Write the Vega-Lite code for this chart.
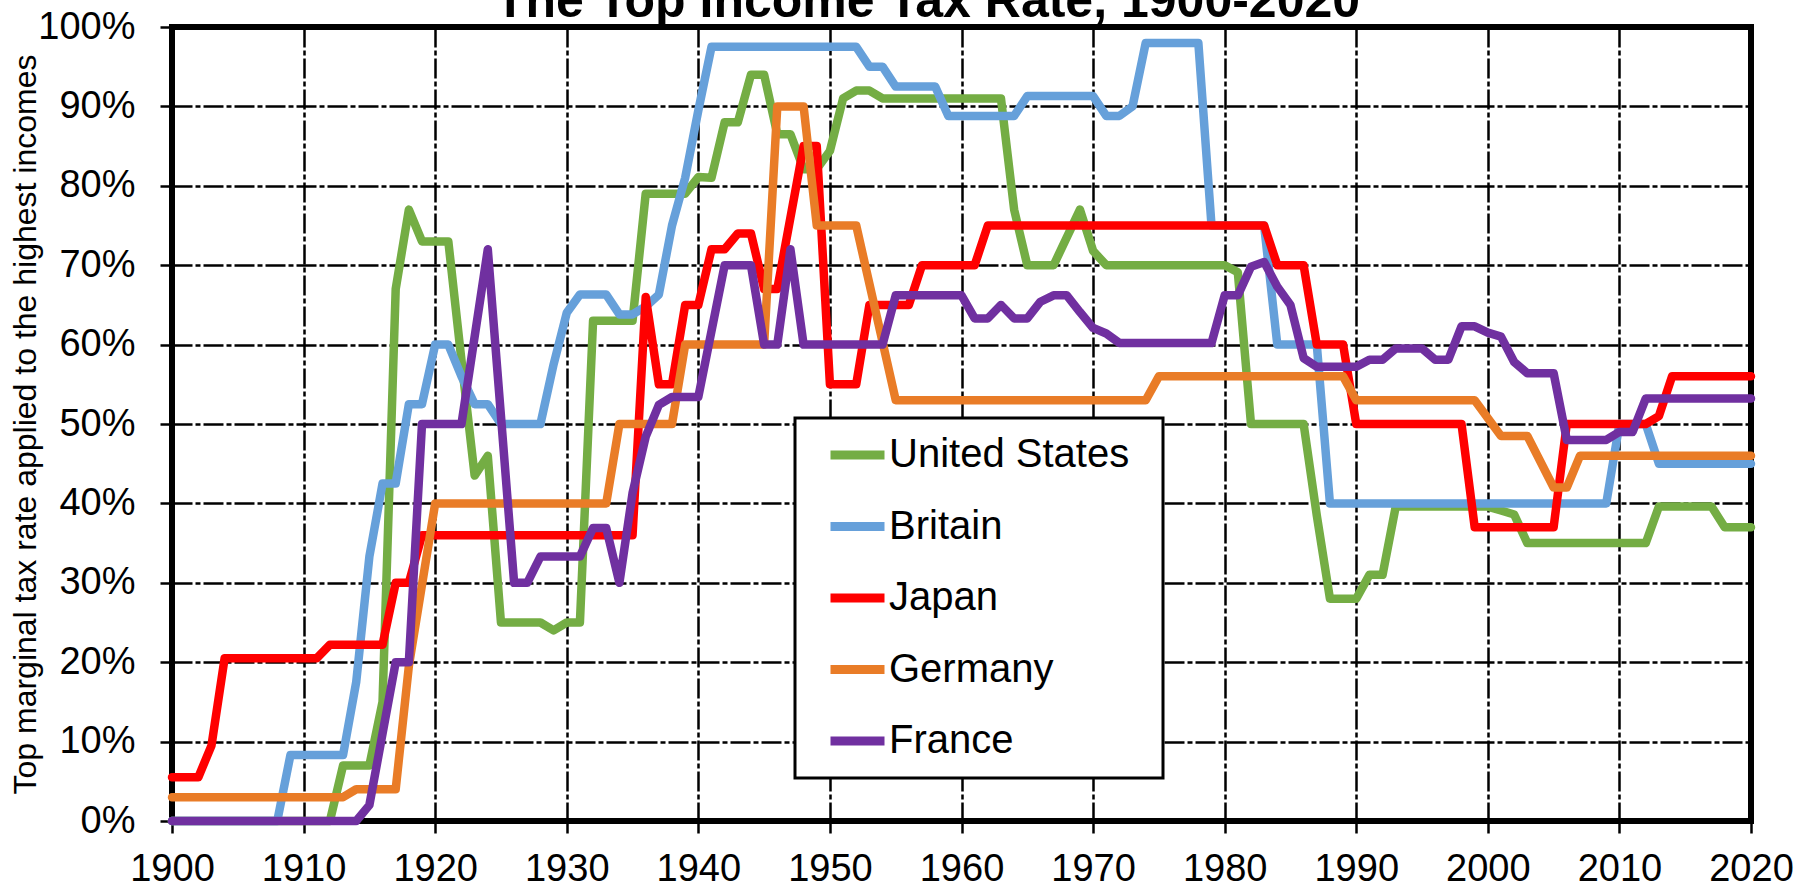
{
  "$schema": "https://vega.github.io/schema/vega-lite/v6.json",
  "width": 1579,
  "height": 794,
  "autosize": {"type": "none"},
  "padding": {"left": 172, "top": 27, "right": 60, "bottom": 66},
  "background": "white",
  "title": {"text": "The Top Income Tax Rate, 1900-2020", "font": "Liberation Sans", "fontSize": 50, "fontWeight": "bold", "color": "black", "anchor": "middle", "dx": -34, "offset": -19},
  "config": {
    "view": {"stroke": "black", "strokeWidth": 6},
    "axis": {"labelFont": "Liberation Sans", "labelFontSize": 38, "labelColor": "black", "tickColor": "black", "tickWidth": 2.5, "tickSize": 12, "domain": false, "grid": true, "gridColor": "black", "gridWidth": 2.5, "gridDash": [20, 3, 5, 3], "gridOpacity": 1},
    "legend": {"strokeWidth": 3, "strokeColor": "black", "fillColor": "white"}
  },
  "datasets": {
    "rates": [
      {"country": "United States", "year": 1900, "rate": 0},
      {"country": "United States", "year": 1912, "rate": 0},
      {"country": "United States", "year": 1913, "rate": 7},
      {"country": "United States", "year": 1915, "rate": 7},
      {"country": "United States", "year": 1916, "rate": 15},
      {"country": "United States", "year": 1917, "rate": 67},
      {"country": "United States", "year": 1918, "rate": 77},
      {"country": "United States", "year": 1919, "rate": 73},
      {"country": "United States", "year": 1921, "rate": 73},
      {"country": "United States", "year": 1922, "rate": 58},
      {"country": "United States", "year": 1923, "rate": 43.5},
      {"country": "United States", "year": 1924, "rate": 46},
      {"country": "United States", "year": 1925, "rate": 25},
      {"country": "United States", "year": 1928, "rate": 25},
      {"country": "United States", "year": 1929, "rate": 24},
      {"country": "United States", "year": 1930, "rate": 25},
      {"country": "United States", "year": 1931, "rate": 25},
      {"country": "United States", "year": 1932, "rate": 63},
      {"country": "United States", "year": 1935, "rate": 63},
      {"country": "United States", "year": 1936, "rate": 79},
      {"country": "United States", "year": 1939, "rate": 79},
      {"country": "United States", "year": 1940, "rate": 81.1},
      {"country": "United States", "year": 1941, "rate": 81},
      {"country": "United States", "year": 1942, "rate": 88},
      {"country": "United States", "year": 1943, "rate": 88},
      {"country": "United States", "year": 1944, "rate": 94},
      {"country": "United States", "year": 1945, "rate": 94},
      {"country": "United States", "year": 1946, "rate": 86.5},
      {"country": "United States", "year": 1947, "rate": 86.5},
      {"country": "United States", "year": 1948, "rate": 82.1},
      {"country": "United States", "year": 1949, "rate": 82.1},
      {"country": "United States", "year": 1950, "rate": 84.4},
      {"country": "United States", "year": 1951, "rate": 91},
      {"country": "United States", "year": 1952, "rate": 92},
      {"country": "United States", "year": 1953, "rate": 92},
      {"country": "United States", "year": 1954, "rate": 91},
      {"country": "United States", "year": 1963, "rate": 91},
      {"country": "United States", "year": 1964, "rate": 77},
      {"country": "United States", "year": 1965, "rate": 70},
      {"country": "United States", "year": 1967, "rate": 70},
      {"country": "United States", "year": 1969, "rate": 77},
      {"country": "United States", "year": 1970, "rate": 71.8},
      {"country": "United States", "year": 1971, "rate": 70},
      {"country": "United States", "year": 1980, "rate": 70},
      {"country": "United States", "year": 1981, "rate": 69.1},
      {"country": "United States", "year": 1982, "rate": 50},
      {"country": "United States", "year": 1986, "rate": 50},
      {"country": "United States", "year": 1987, "rate": 38.5},
      {"country": "United States", "year": 1988, "rate": 28},
      {"country": "United States", "year": 1990, "rate": 28},
      {"country": "United States", "year": 1991, "rate": 31},
      {"country": "United States", "year": 1992, "rate": 31},
      {"country": "United States", "year": 1993, "rate": 39.6},
      {"country": "United States", "year": 2000, "rate": 39.6},
      {"country": "United States", "year": 2001, "rate": 39.1},
      {"country": "United States", "year": 2002, "rate": 38.6},
      {"country": "United States", "year": 2003, "rate": 35},
      {"country": "United States", "year": 2012, "rate": 35},
      {"country": "United States", "year": 2013, "rate": 39.6},
      {"country": "United States", "year": 2017, "rate": 39.6},
      {"country": "United States", "year": 2018, "rate": 37},
      {"country": "United States", "year": 2020, "rate": 37},

      {"country": "Britain", "year": 1900, "rate": 0},
      {"country": "Britain", "year": 1908, "rate": 0},
      {"country": "Britain", "year": 1909, "rate": 8.3},
      {"country": "Britain", "year": 1913, "rate": 8.3},
      {"country": "Britain", "year": 1914, "rate": 17.5},
      {"country": "Britain", "year": 1915, "rate": 33.3},
      {"country": "Britain", "year": 1916, "rate": 42.5},
      {"country": "Britain", "year": 1917, "rate": 42.5},
      {"country": "Britain", "year": 1918, "rate": 52.5},
      {"country": "Britain", "year": 1919, "rate": 52.5},
      {"country": "Britain", "year": 1920, "rate": 60},
      {"country": "Britain", "year": 1921, "rate": 60},
      {"country": "Britain", "year": 1922, "rate": 56},
      {"country": "Britain", "year": 1923, "rate": 52.5},
      {"country": "Britain", "year": 1924, "rate": 52.5},
      {"country": "Britain", "year": 1925, "rate": 50},
      {"country": "Britain", "year": 1928, "rate": 50},
      {"country": "Britain", "year": 1929, "rate": 57.5},
      {"country": "Britain", "year": 1930, "rate": 64},
      {"country": "Britain", "year": 1931, "rate": 66.3},
      {"country": "Britain", "year": 1933, "rate": 66.3},
      {"country": "Britain", "year": 1934, "rate": 63.8},
      {"country": "Britain", "year": 1935, "rate": 63.8},
      {"country": "Britain", "year": 1936, "rate": 64.8},
      {"country": "Britain", "year": 1937, "rate": 66.3},
      {"country": "Britain", "year": 1938, "rate": 75},
      {"country": "Britain", "year": 1939, "rate": 81},
      {"country": "Britain", "year": 1940, "rate": 89.5},
      {"country": "Britain", "year": 1941, "rate": 97.5},
      {"country": "Britain", "year": 1952, "rate": 97.5},
      {"country": "Britain", "year": 1953, "rate": 95},
      {"country": "Britain", "year": 1954, "rate": 95},
      {"country": "Britain", "year": 1955, "rate": 92.5},
      {"country": "Britain", "year": 1958, "rate": 92.5},
      {"country": "Britain", "year": 1959, "rate": 88.8},
      {"country": "Britain", "year": 1964, "rate": 88.8},
      {"country": "Britain", "year": 1965, "rate": 91.3},
      {"country": "Britain", "year": 1970, "rate": 91.3},
      {"country": "Britain", "year": 1971, "rate": 88.8},
      {"country": "Britain", "year": 1972, "rate": 88.8},
      {"country": "Britain", "year": 1973, "rate": 90},
      {"country": "Britain", "year": 1974, "rate": 98},
      {"country": "Britain", "year": 1978, "rate": 98},
      {"country": "Britain", "year": 1979, "rate": 75},
      {"country": "Britain", "year": 1983, "rate": 75},
      {"country": "Britain", "year": 1984, "rate": 60},
      {"country": "Britain", "year": 1987, "rate": 60},
      {"country": "Britain", "year": 1988, "rate": 40},
      {"country": "Britain", "year": 2009, "rate": 40},
      {"country": "Britain", "year": 2010, "rate": 50},
      {"country": "Britain", "year": 2012, "rate": 50},
      {"country": "Britain", "year": 2013, "rate": 45},
      {"country": "Britain", "year": 2020, "rate": 45},

      {"country": "Japan", "year": 1900, "rate": 5.5},
      {"country": "Japan", "year": 1902, "rate": 5.5},
      {"country": "Japan", "year": 1903, "rate": 9.5},
      {"country": "Japan", "year": 1904, "rate": 20.5},
      {"country": "Japan", "year": 1911, "rate": 20.5},
      {"country": "Japan", "year": 1912, "rate": 22.2},
      {"country": "Japan", "year": 1916, "rate": 22.2},
      {"country": "Japan", "year": 1917, "rate": 30},
      {"country": "Japan", "year": 1918, "rate": 30},
      {"country": "Japan", "year": 1919, "rate": 36},
      {"country": "Japan", "year": 1935, "rate": 36},
      {"country": "Japan", "year": 1936, "rate": 66},
      {"country": "Japan", "year": 1937, "rate": 55},
      {"country": "Japan", "year": 1938, "rate": 55},
      {"country": "Japan", "year": 1939, "rate": 65},
      {"country": "Japan", "year": 1940, "rate": 65},
      {"country": "Japan", "year": 1941, "rate": 72},
      {"country": "Japan", "year": 1942, "rate": 72},
      {"country": "Japan", "year": 1943, "rate": 74},
      {"country": "Japan", "year": 1944, "rate": 74},
      {"country": "Japan", "year": 1945, "rate": 67},
      {"country": "Japan", "year": 1946, "rate": 67},
      {"country": "Japan", "year": 1948, "rate": 85},
      {"country": "Japan", "year": 1949, "rate": 85},
      {"country": "Japan", "year": 1950, "rate": 55},
      {"country": "Japan", "year": 1952, "rate": 55},
      {"country": "Japan", "year": 1953, "rate": 65},
      {"country": "Japan", "year": 1956, "rate": 65},
      {"country": "Japan", "year": 1957, "rate": 70},
      {"country": "Japan", "year": 1961, "rate": 70},
      {"country": "Japan", "year": 1962, "rate": 75},
      {"country": "Japan", "year": 1983, "rate": 75},
      {"country": "Japan", "year": 1984, "rate": 70},
      {"country": "Japan", "year": 1986, "rate": 70},
      {"country": "Japan", "year": 1987, "rate": 60},
      {"country": "Japan", "year": 1989, "rate": 60},
      {"country": "Japan", "year": 1990, "rate": 50},
      {"country": "Japan", "year": 1998, "rate": 50},
      {"country": "Japan", "year": 1999, "rate": 37},
      {"country": "Japan", "year": 2005, "rate": 37},
      {"country": "Japan", "year": 2006, "rate": 50},
      {"country": "Japan", "year": 2012, "rate": 50},
      {"country": "Japan", "year": 2013, "rate": 51},
      {"country": "Japan", "year": 2014, "rate": 56},
      {"country": "Japan", "year": 2020, "rate": 56},

      {"country": "Germany", "year": 1900, "rate": 3},
      {"country": "Germany", "year": 1913, "rate": 3},
      {"country": "Germany", "year": 1914, "rate": 4},
      {"country": "Germany", "year": 1917, "rate": 4},
      {"country": "Germany", "year": 1918, "rate": 19.5},
      {"country": "Germany", "year": 1920, "rate": 40},
      {"country": "Germany", "year": 1933, "rate": 40},
      {"country": "Germany", "year": 1934, "rate": 50},
      {"country": "Germany", "year": 1938, "rate": 50},
      {"country": "Germany", "year": 1939, "rate": 60},
      {"country": "Germany", "year": 1945, "rate": 60},
      {"country": "Germany", "year": 1946, "rate": 90},
      {"country": "Germany", "year": 1948, "rate": 90},
      {"country": "Germany", "year": 1949, "rate": 75},
      {"country": "Germany", "year": 1952, "rate": 75},
      {"country": "Germany", "year": 1955, "rate": 53},
      {"country": "Germany", "year": 1974, "rate": 53},
      {"country": "Germany", "year": 1975, "rate": 56},
      {"country": "Germany", "year": 1989, "rate": 56},
      {"country": "Germany", "year": 1990, "rate": 53},
      {"country": "Germany", "year": 1999, "rate": 53},
      {"country": "Germany", "year": 2001, "rate": 48.5},
      {"country": "Germany", "year": 2003, "rate": 48.5},
      {"country": "Germany", "year": 2005, "rate": 42},
      {"country": "Germany", "year": 2006, "rate": 42},
      {"country": "Germany", "year": 2007, "rate": 46},
      {"country": "Germany", "year": 2020, "rate": 46},

      {"country": "France", "year": 1900, "rate": 0},
      {"country": "France", "year": 1914, "rate": 0},
      {"country": "France", "year": 1915, "rate": 2},
      {"country": "France", "year": 1917, "rate": 20},
      {"country": "France", "year": 1918, "rate": 20},
      {"country": "France", "year": 1919, "rate": 50},
      {"country": "France", "year": 1922, "rate": 50},
      {"country": "France", "year": 1924, "rate": 72},
      {"country": "France", "year": 1926, "rate": 30},
      {"country": "France", "year": 1927, "rate": 30},
      {"country": "France", "year": 1928, "rate": 33.3},
      {"country": "France", "year": 1931, "rate": 33.3},
      {"country": "France", "year": 1932, "rate": 36.9},
      {"country": "France", "year": 1933, "rate": 36.9},
      {"country": "France", "year": 1934, "rate": 30},
      {"country": "France", "year": 1935, "rate": 41.3},
      {"country": "France", "year": 1936, "rate": 48.4},
      {"country": "France", "year": 1937, "rate": 52.4},
      {"country": "France", "year": 1938, "rate": 53.4},
      {"country": "France", "year": 1940, "rate": 53.4},
      {"country": "France", "year": 1942, "rate": 70},
      {"country": "France", "year": 1944, "rate": 70},
      {"country": "France", "year": 1945, "rate": 60},
      {"country": "France", "year": 1946, "rate": 60},
      {"country": "France", "year": 1947, "rate": 72},
      {"country": "France", "year": 1948, "rate": 60},
      {"country": "France", "year": 1954, "rate": 60},
      {"country": "France", "year": 1955, "rate": 66.2},
      {"country": "France", "year": 1960, "rate": 66.2},
      {"country": "France", "year": 1961, "rate": 63.3},
      {"country": "France", "year": 1962, "rate": 63.3},
      {"country": "France", "year": 1963, "rate": 65},
      {"country": "France", "year": 1964, "rate": 63.3},
      {"country": "France", "year": 1965, "rate": 63.3},
      {"country": "France", "year": 1966, "rate": 65.4},
      {"country": "France", "year": 1967, "rate": 66.2},
      {"country": "France", "year": 1968, "rate": 66.2},
      {"country": "France", "year": 1969, "rate": 64.1},
      {"country": "France", "year": 1970, "rate": 62.1},
      {"country": "France", "year": 1971, "rate": 61.4},
      {"country": "France", "year": 1972, "rate": 60.2},
      {"country": "France", "year": 1979, "rate": 60.2},
      {"country": "France", "year": 1980, "rate": 66.2},
      {"country": "France", "year": 1981, "rate": 66.2},
      {"country": "France", "year": 1982, "rate": 69.8},
      {"country": "France", "year": 1983, "rate": 70.4},
      {"country": "France", "year": 1984, "rate": 67.3},
      {"country": "France", "year": 1985, "rate": 65},
      {"country": "France", "year": 1986, "rate": 58.3},
      {"country": "France", "year": 1987, "rate": 57.2},
      {"country": "France", "year": 1990, "rate": 57.2},
      {"country": "France", "year": 1991, "rate": 58.1},
      {"country": "France", "year": 1992, "rate": 58.1},
      {"country": "France", "year": 1993, "rate": 59.5},
      {"country": "France", "year": 1995, "rate": 59.5},
      {"country": "France", "year": 1996, "rate": 58.1},
      {"country": "France", "year": 1997, "rate": 58.1},
      {"country": "France", "year": 1998, "rate": 62.3},
      {"country": "France", "year": 1999, "rate": 62.3},
      {"country": "France", "year": 2000, "rate": 61.5},
      {"country": "France", "year": 2001, "rate": 61},
      {"country": "France", "year": 2002, "rate": 57.8},
      {"country": "France", "year": 2003, "rate": 56.4},
      {"country": "France", "year": 2005, "rate": 56.4},
      {"country": "France", "year": 2006, "rate": 48},
      {"country": "France", "year": 2009, "rate": 48},
      {"country": "France", "year": 2010, "rate": 49},
      {"country": "France", "year": 2011, "rate": 49},
      {"country": "France", "year": 2012, "rate": 53.2},
      {"country": "France", "year": 2020, "rate": 53.2}
    ]
  },
  "data": {"name": "rates"},
  "mark": {"type": "line", "strokeWidth": 8.5, "strokeJoin": "round", "strokeCap": "round"},
  "encoding": {
    "x": {
      "field": "year", "type": "quantitative",
      "scale": {"domain": [1900, 2020], "nice": false, "zero": false},
      "axis": {"title": null, "values": [1900, 1910, 1920, 1930, 1940, 1950, 1960, 1970, 1980, 1990, 2000, 2010, 2020], "format": "d", "labelPadding": 17, "labelFlush": false, "labelOverlap": false}
    },
    "y": {
      "field": "rate", "type": "quantitative",
      "scale": {"domain": [0, 100], "nice": false},
      "axis": {"title": "Top marginal tax rate applied to the highest incomes", "titleFont": "Liberation Sans", "titleFontSize": 32, "titleFontWeight": "normal", "titleColor": "black", "titlePadding": -5, "values": [0, 10, 20, 30, 40, 50, 60, 70, 80, 90, 100], "labelExpr": "datum.value + '%'", "labelPadding": 25, "labelFlush": false, "labelOverlap": false}
    },
    "color": {
      "field": "country", "type": "nominal",
      "scale": {"domain": ["United States", "Britain", "Japan", "Germany", "France"], "range": ["#74AD44", "#66A0DA", "#FF0000", "#E97C27", "#7030A0"]},
      "legend": {"title": " ", "titleOrient": "right", "titlePadding": 17, "titleFontSize": 2, "orient": "none", "legendX": 623, "legendY": 391, "fillColor": "white", "strokeColor": "black", "padding": 17, "symbolType": "M-1.8,0H1.8", "symbolSize": 900, "symbolStrokeWidth": 9, "symbolOffset": 25.5, "labelOffset": 11.5, "labelFont": "Liberation Sans", "labelFontSize": 40, "labelColor": "black", "rowPadding": 31.5, "labelLimit": 400}
    }
  }
}
